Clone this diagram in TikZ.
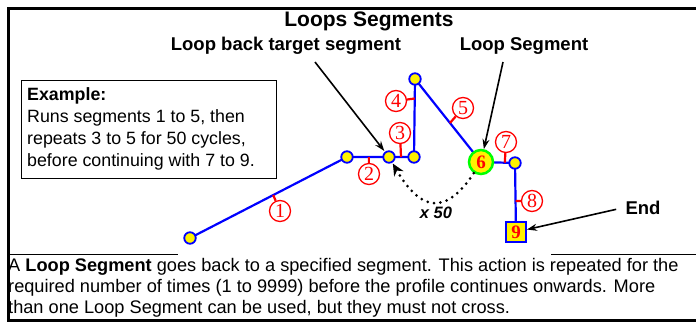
\documentclass[tikz,border=0pt]{standalone}
\usepackage{fontspec}
\setmainfont{Liberation Sans}
\newfontfamily\digitfont{Liberation Serif}
\usetikzlibrary{calc,arrows.meta}
\newcommand{\px}[2]{\fontsize{#1}{#2}\selectfont}
\tikzset{
  pt/.style={circle,draw=blue,fill=yellow,line width=1.8pt,inner sep=0pt,minimum size=11.5pt},
  loopnode/.style={circle,draw=green,fill=yellow,line width=2.5pt,inner sep=0pt,minimum size=24pt,
    text=red,font=\digitfont\bfseries\px{19}{19}},
  endnode/.style={rectangle,draw=blue,fill=yellow,line width=1.8pt,inner sep=0pt,minimum size=20pt,
    text=red,font=\digitfont\bfseries\px{19}{19}},
  seglabel/.style={circle,draw=red,line width=1.3pt,inner sep=0pt,minimum size=21pt,
    text=red,font=\digitfont\px{20}{20}},
  tick/.style={red,line width=2.2pt},
  route/.style={blue,line width=2.2pt},
  callout/.style={-{Stealth[length=10pt,width=7pt]},line width=1.6pt},
  heading/.style={font=\bfseries\px{18.5}{20}},
}
\begin{document}
\begin{tikzpicture}[x=1pt,y=-1pt]
  \useasboundingbox (0,0) rectangle (696,322);
  \clip (0,0) rectangle (696,322);
  \draw[line width=3pt] (700,8.5) -- (8,8.5) -- (8,320.5) -- (700,320.5);
  \draw[line width=1pt] (8,254) -- (178,254) (551,254) -- (700,254);

  \node[font=\bfseries\px{21}{23}] (title) at (369,21) {Loops Segments};
  \node[heading] (lbt) at (286,46) {Loop back target segment};
  \node[heading] (lseg) at (524,46) {Loop Segment};
  \node[heading,anchor=west] (endlbl) at (622,208) {End};

  \draw[line width=1pt] (21,80) rectangle (276,178);
  \node[anchor=north west,align=left,font=\px{17.8}{22},inner sep=0pt] (example) at (27,87)
    {\textbf{Example:}\\
     Runs segments 1 to 5, then\\
     repeats 3 to 5 for 50 cycles,\\
     before continuing with 7 to 9.};

  \draw[route]
    (190,238) coordinate (start)
    -- (347,157) coordinate (p1)
    -- (389,157) coordinate (p2)
    -- (414,157) coordinate (p3)
    -- (415,79) coordinate (p4)
    -- (481,162) coordinate (loop)
    -- (515,163) coordinate (p7)
    -- (516,232) coordinate (end);
  \draw
    (start) node[pt] (start) {}
    (p1) node[pt] (p1) {}
    (p2) node[pt] (p2) {}
    (p3) node[pt] (p3) {}
    (p4) node[pt] (p4) {}
    (p7) node[pt] (p7) {}
    (loop) node[loopnode] (loop) {6}
    (end) node[endnode] (end) {9};

  \draw
    (280,211) node[seglabel] (c1) {1}
    (369,174) node[seglabel] (c2) {2}
    (400,133) node[seglabel] (c3) {3}
    (396,101) node[seglabel] (c4) {4}
    (463,108) node[seglabel] (c5) {5}
    (506,142) node[seglabel] (c7) {7}
    (532,201) node[seglabel] (c8) {8};
  \begin{scope}[tick]
    \draw (c1) -- ($(start)!0.53!(p1)$);
    \draw (c2) -- ($(p1)!0.52!(p2)$);
    \draw (c3) -- ($(p2)!0.48!(p3)$);
    \draw (c4) -- ($(p3)!0.75!(p4)$);
    \draw (c5) -- ($(p4)!0.53!(loop)$);
    \draw (c7) -- ($(loop)!0.7!(p7)$);
    \draw (c8) -- ($(p7)!0.55!(end)$);
  \end{scope}

  \coordinate (tailA) at (315,62);
  \coordinate (tailB) at (503,62);
  \draw[callout,shorten >=1pt] (tailA) -- (p2);
  \draw[callout] (tailB) -- (loop);
  \draw[callout,shorten <=6pt] (endlbl.west) -- (end);

  \draw[line width=3pt,line cap=round,dash pattern=on 0pt off 6.5pt,
        -{Stealth[length=12pt,width=11pt,line width=0pt]},shorten >=1pt]
    (loop) .. controls (445,217) and (420,210) .. (p2);
  \node[font=\bfseries\itshape\px{16.5}{18}] (times) at (436,213) {x 50};

  \node[anchor=north west,align=left,font=\px{18.2}{21},inner sep=0pt] (note) at (8,258)
    {A \textbf{Loop Segment} goes back to a specified segment. This action is repeated for the\\
     required number of times (1 to 9999) before the profile continues onwards. More\\
     than one Loop Segment can be used, but they must not cross.};
\end{tikzpicture}
\end{document}
